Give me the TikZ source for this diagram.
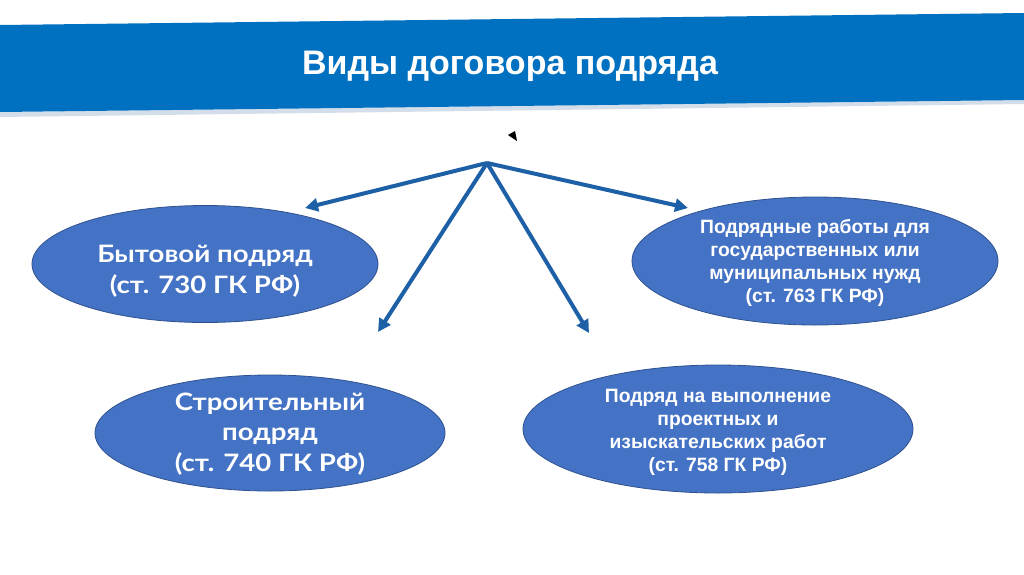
\documentclass[tikz,border=0pt]{standalone}
\usepackage{fontspec}
\setmainfont{Liberation Sans}
\newfontfamily\gothic[FakeStretch=1.15]{Lato}
\usetikzlibrary{shapes.geometric,arrows.meta}
\definecolor{banner}{HTML}{0070C0}
\definecolor{shadowc}{HTML}{D3DEEA}
\definecolor{ellfill}{HTML}{4472C4}
\definecolor{elldraw}{HTML}{2F528F}
\definecolor{arrowc}{HTML}{1E60A6}
\tikzset{
  oval/.style={ellipse, fill=ellfill, draw=elldraw, line width=0.8pt, inner sep=0pt},
  txtA/.style={text=white, align=center, inner sep=0pt, font=\gothic\bfseries\fontsize{24}{30.5}\selectfont},
  txtB/.style={text=white, align=center, inner sep=0pt, font=\bfseries\fontsize{19.3}{23}\selectfont},
  conn/.style={draw=arrowc, line width=4pt, -{Triangle[length=13pt,width=13pt]}},
}
\begin{document}
\begin{tikzpicture}[x=1pt,y=-1pt]
\useasboundingbox (0,0) rectangle (1024,574);
\fill[white] (0,0) rectangle (1024,574);
% banner shadow and banner
\fill[shadowc] (0,112) -- (1024,99) -- (1024,104) -- (0,117) -- cycle;
\fill[banner] (0,25) -- (1024,13) -- (1024,100) -- (0,112) -- cycle;
\node[text=white, font=\bfseries\fontsize{34}{40}\selectfont] (title) at (510,66) {Виды договора подряда};
% small marker
\fill[black] (508,135) -- (515,131) -- (517,141) -- cycle;
% ellipses
\node[oval, minimum width=346pt, minimum height=117pt] (e1) at (205,264) {};
\node[txtA] (e1t) at (205,271) {Бытовой подряд\\(ст. 730 ГК РФ)};
\node[oval, minimum width=366pt, minimum height=128pt] (e2) at (815,261) {};
\node[txtB] (e2t) at (815,263) {Подрядные работы для\\государственных или\\муниципальных нужд\\(ст. 763 ГК РФ)};
\node[oval, minimum width=350pt, minimum height=116pt] (e3) at (270,433) {};
\node[txtA] (e3t) at (270,434) {Строительный\\подряд\\(ст. 740 ГК РФ)};
\node[oval, minimum width=390pt, minimum height=128pt] (e4) at (718,429) {};
\node[txtB] (e4t) at (718,432) {Подряд на выполнение\\проектных и\\изыскательских работ\\(ст. 758 ГК РФ)};
% connectors
\coordinate (o) at (487,163);
\coordinate (t1) at (305,208);
\coordinate (t2) at (378,332);
\coordinate (t3) at (589,333);
\coordinate (t4) at (688,208);
\draw[conn] (o) -- (t1);
\draw[conn] (o) -- (t2);
\draw[conn] (o) -- (t3);
\draw[conn] (o) -- (t4);
\end{tikzpicture}
\end{document}
